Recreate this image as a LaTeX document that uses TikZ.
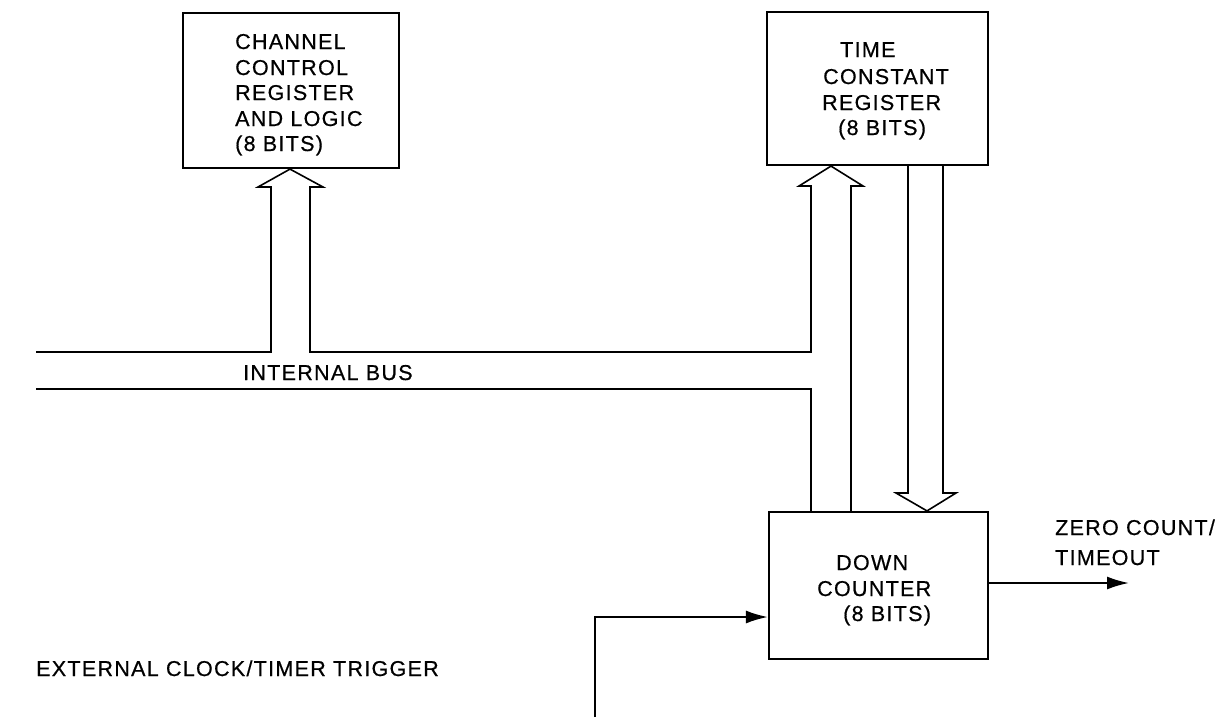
\documentclass[tikz,border=0pt]{standalone}
\usepackage{fontspec}
\setmainfont{Liberation Sans}[LetterSpace=6,FakeBold=0.6]
\usetikzlibrary{arrows.meta,calc}
\begin{document}
\begin{tikzpicture}[x=1pt,y=-1pt,
  box/.style={draw,line width=2.2pt,inner sep=0pt},
  lbl/.style={anchor=base west,inner sep=0pt,font=\fontsize{21.5}{25}\selectfont},
  bus/.style={draw,line width=1.6pt},
  sig/.style={draw,line width=2pt,-{Latex[length=22pt,width=13pt]}}]
\useasboundingbox (0,0) rectangle (1225,717);
% boxes
\node[box,minimum width=216pt,minimum height=155pt] (ccr) at (291,90.5) {};
\node[box,minimum width=221pt,minimum height=153pt] (tcr) at (877.5,88.5) {};
\node[box,minimum width=219pt,minimum height=147pt] (dc) at (878.5,585.5) {};
% box texts
\node[lbl] (c1) at (235,49) {CHANNEL};
\node[lbl] (c2) at (235,75) {CONTROL};
\node[lbl] (c3) at (235,100) {REGISTER};
\node[lbl] (c4) at (235,126) {AND LOGIC};
\node[lbl] (c5) at (235,151) {(8 BITS)};
\node[lbl] (t1) at (840,57) {TIME};
\node[lbl] (t2) at (823,84) {CONSTANT};
\node[lbl] (t3) at (822,110) {REGISTER};
\node[lbl] (t4) at (838,135) {(8 BITS)};
\node[lbl] (d1) at (836,570) {DOWN};
\node[lbl] (d2) at (817,596) {COUNTER};
\node[lbl] (d3) at (843,621) {(8 BITS)};
\node[lbl] (bus) at (243,380) {INTERNAL BUS};
\node[lbl] (z1) at (1055,535) {ZERO COUNT/};
\node[lbl] (z2) at (1055,565) {TIMEOUT};
\node[lbl] (ext) at (36,676) {EXTERNAL CLOCK/TIMER TRIGGER};
% named coordinates
\coordinate (busL) at (36,352);
\coordinate (busLb) at (36,389);
\coordinate (clk) at (595,717);
\coordinate (out) at (1129,583);
% bus to channel control register and time constant register
\draw[bus] (busL) -- (271,352) -- (271,187) -- (258,187) -- (ccr.south -| 290,0)
  -- (323,187) -- (310,187) -- (310,352) -- (811,352) -- (811,186) -- (799,186)
  -- (tcr.south -| 831,0) -- (863,186) -- (851,186) -- (dc.north -| 851,0);
\draw[bus] (busLb) -- (811,389) -- (dc.north -| 811,0);
% time constant register to down counter
\draw[bus] (tcr.south -| 908,0) -- (908,493) -- (896,493) -- (dc.north -| 927,0)
  -- (956,493) -- (943,493) -- (tcr.south -| 943,0);
% signals
\draw[sig] (clk) |- (dc.west |- 0,617);
\draw[sig] (dc.east |- 0,583) -- (out);
\end{tikzpicture}
\end{document}
